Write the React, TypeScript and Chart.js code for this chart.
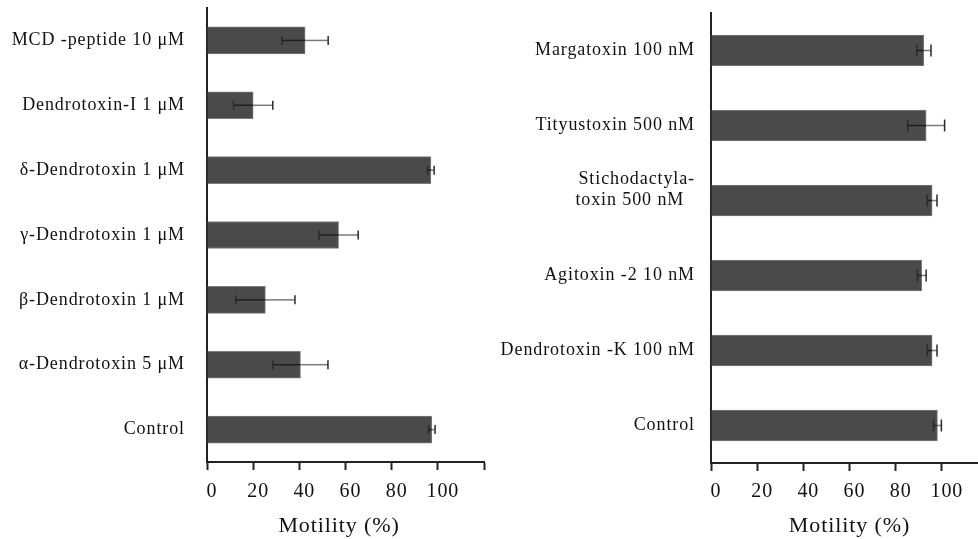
import React, { useEffect, useRef } from "react";
import { Chart, registerables } from "chart.js";

Chart.register(...registerables);

// ---- Data ----
const leftCategories: (string | string[])[] = [
  "MCD -peptide 10 μM",
  "Dendrotoxin-I 1 μM",
  "δ-Dendrotoxin 1 μM",
  "γ-Dendrotoxin 1 μM",
  "β-Dendrotoxin 1 μM",
  "α-Dendrotoxin 5 μM",
  "Control",
];
const leftValues = [42.5, 20, 97, 57, 25.3, 40.5, 97.4];
const leftErrors = [10, 8.5, 1.4, 8.5, 12.8, 11.9, 1.4];

const rightCategories: (string | string[])[] = [
  "Margatoxin 100 nM",
  "Tityustoxin 500 nM",
  ["Stichodactyla-", "toxin 500 nM  ", ""],
  "Agitoxin -2 10 nM",
  "Dendrotoxin -K 100 nM",
  "Control",
];
const rightValues = [92.2, 93.2, 95.8, 91.3, 95.8, 98.1];
const rightErrors = [3.1, 8, 2.1, 1.9, 2.1, 1.7];

const xTickValues = [0, 20, 40, 60, 80, 100];
const axisTitle = "Motility (%)";

// ---- Styling ----
const FONT = "'Liberation Serif', 'Times New Roman', serif";
const TEXT = "#111111";
const AXIS = "#222222";
const SPACING = "0.9px";

const spacingPlugin = {
  id: "letterSpacing",
  beforeLayout(chart: any) {
    chart.ctx.letterSpacing = SPACING;
  },
  beforeDraw(chart: any) {
    chart.ctx.letterSpacing = SPACING;
  },
};

const errorBarPlugin = {
  id: "errorBars",
  afterDatasetsDraw(chart: any, _args: any, opts: any) {
    const ctx = chart.ctx;
    const meta = chart.getDatasetMeta(0);
    const xScale = chart.scales.x;
    const values: number[] = opts.values;
    const errors: number[] = opts.errors;
    const cap: number = opts.cap;
    ctx.save();
    ctx.lineWidth = 1.5;
    meta.data.forEach((bar: any, i: number) => {
      const y = bar.y;
      const v = values[i];
      const e = errors[i];
      const xl = xScale.getPixelForValue(v - e);
      const xr = xScale.getPixelForValue(v + e);
      const xv = xScale.getPixelForValue(v);
      ctx.strokeStyle = "#1e1e1e";
      ctx.beginPath();
      ctx.moveTo(xl, y);
      ctx.lineTo(Math.min(xv, xr), y);
      ctx.stroke();
      ctx.strokeStyle = "#7a7a7a";
      ctx.beginPath();
      ctx.moveTo(xv, y);
      ctx.lineTo(xr, y);
      ctx.stroke();
      ctx.strokeStyle = "#2a2a2a";
      ctx.beginPath();
      ctx.moveTo(xl, y - cap / 2);
      ctx.lineTo(xl, y + cap / 2);
      ctx.moveTo(xr, y - cap / 2);
      ctx.lineTo(xr, y + cap / 2);
      ctx.stroke();
    });
    ctx.restore();
  },
};

type PanelProps = {
  categories: (string | string[])[];
  values: number[];
  errors: number[];
  title: string;
  left: number;
  width: number;
  yAxisWidth: number;
  padTop: number;
  padRight: number;
  xAxisHeight: number;
  barThickness: number;
  cap: number;
  labelPad: number;
  tickPad: number;
};

function Panel(p: PanelProps) {
  const ref = useRef<HTMLCanvasElement>(null);
  useEffect(() => {
    if (!ref.current) return;
    const chart = new Chart(ref.current, {
      type: "bar",
      data: {
        labels: p.categories,
        datasets: [
          {
            data: p.values,
            backgroundColor: "#4a4a4a",
            borderColor: "#7c7c7c",
            borderWidth: 1,
            borderSkipped: "start",
            barThickness: p.barThickness,
          },
        ],
      },
      plugins: [spacingPlugin, errorBarPlugin],
      options: {
        indexAxis: "y",
        animation: false,
        responsive: false,
        maintainAspectRatio: false,
        events: [],
        layout: {
          padding: { top: p.padTop, right: p.padRight, bottom: 0, left: 0 },
        },
        plugins: {
          legend: { display: false },
          tooltip: { enabled: false },
          errorBars: { values: p.values, errors: p.errors, cap: p.cap },
        } as any,
        scales: {
          x: {
            type: "linear",
            min: 0,
            max: 120,
            afterBuildTicks: (scale: any) => {
              scale.ticks = [...xTickValues, 120].map((v) => ({ value: v }));
            },
            afterFit: (scale: any) => {
              scale.height = p.xAxisHeight;
              scale.paddingLeft = 0;
              scale.paddingRight = 0;
            },
            ticks: {
              color: TEXT,
              font: { family: FONT, size: 20 },
              padding: p.tickPad,
              labelOffset: 5,
              maxRotation: 0,
              autoSkip: false,
              callback: (v: any) => (xTickValues.includes(Number(v)) ? String(v) : ""),
            },
            grid: {
              display: true,
              drawOnChartArea: false,
              drawTicks: true,
              tickLength: 8,
              tickWidth: 2,
              tickColor: AXIS,
            },
            border: { display: true, color: AXIS, width: 2 },
            title: {
              display: true,
              text: p.title,
              color: TEXT,
              font: { family: FONT, size: 22 },
              padding: { top: 0, bottom: 0 },
            },
          },
          y: {
            type: "category",
            afterFit: (scale: any) => {
              scale.width = p.yAxisWidth;
              scale.paddingTop = 0;
              scale.paddingBottom = 0;
            },
            ticks: {
              color: TEXT,
              font: { family: FONT, size: 18 },
              padding: p.labelPad,
              autoSkip: false,
            },
            grid: { display: false, drawTicks: false },
            border: { display: true, color: AXIS, width: 2 },
          },
        },
      } as any,
    });
    return () => chart.destroy();
  }, []);
  return (
    <canvas
      ref={ref}
      width={p.width}
      height={539}
      style={{ position: "absolute", left: p.left, top: 0, width: p.width, height: 539 }}
    />
  );
}

export default function App() {
  return (
    <div
      style={{
        position: "absolute",
        left: 0,
        top: 0,
        width: 978,
        height: 539,
        overflow: "hidden",
        background: "#ffffff",
      }}
    >
      <Panel
        categories={leftCategories}
        values={leftValues}
        errors={leftErrors}
        title={axisTitle + "  "}
        left={0}
        width={490}
        yAxisWidth={207}
        padTop={8}
        padRight={6}
        xAxisHeight={77}
        barThickness={27}
        cap={9}
        labelPad={22}
        tickPad={10}
      />
      <Panel
        categories={rightCategories}
        values={rightValues}
        errors={rightErrors}
        title={axisTitle}
        left={490}
        width={500}
        yAxisWidth={221}
        padTop={13}
        padRight={2}
        xAxisHeight={76}
        barThickness={31}
        cap={12}
        labelPad={16}
        tickPad={9}
      />
    </div>
  );
}
